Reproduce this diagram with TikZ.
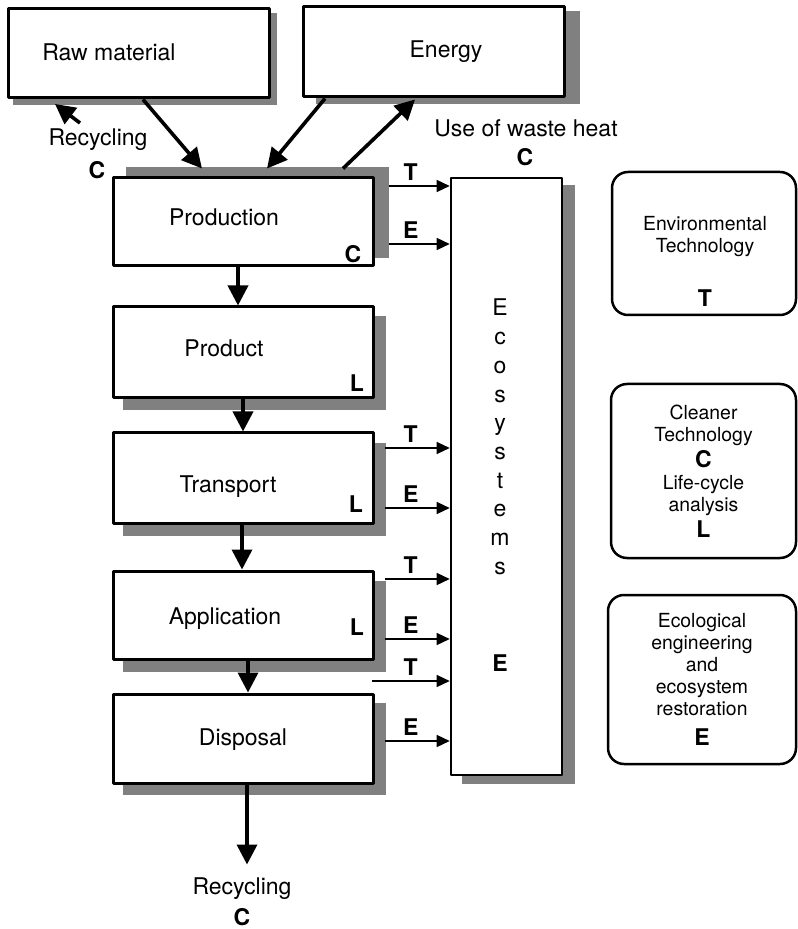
\documentclass[tikz,border=0pt]{standalone}
\usepackage{fontspec}
\setmainfont{TeX Gyre Heros}
\usetikzlibrary{arrows.meta,calc,backgrounds}
\definecolor{shadowgray}{RGB}{128,128,128}
\begin{document}
\begin{tikzpicture}[x=0.5pt, y=-0.5pt, font=\fontsize{11.5}{13.8}\selectfont, line join=round,
	box/.style={draw, line width=1.5pt, fill=white, inner sep=0pt, minimum width=130pt},
	rbox/.style={draw, line width=1.25pt, rounded corners=8pt, align=center, inner sep=0pt,
		font=\fontsize{9.7}{11}\selectfont},
	rtxt/.style={align=center, inner sep=0pt, font=\fontsize{9.7}{11}\selectfont},
	lab/.style={inner sep=1pt, font=\fontsize{11.5}{13.8}\selectfont\bfseries},
	bigarr/.style={line width=1.8pt, -{Triangle[length=10pt,width=10pt]}},
	flowarr/.style={line width=0.7pt, -{Triangle[length=6.5pt,width=6pt]}}]
	\def\bigletter#1{{\fontsize{11.5}{11}\selectfont\bfseries #1}} % bold letter in the right boxes
	\useasboundingbox (0,0) rectangle (797,929);
	% inputs
	\node[box, minimum width=130.5pt, minimum height=44.5pt] (raw) at (138.5,53.5) {};
	\node (rawtxt) at (109,52) {Raw material};
	\node[box, minimum width=130.5pt, minimum height=45pt] (energy) at (433.5,52) {};
	\node (energytxt) at (446,52) {Energy};
	% life cycle chain
	\node[box, minimum height=44pt] (prod) at (243,222) {};
	\node (prodtxt) at (224,217) {Production};
	\node[lab] (prodC) at (353,254) {C};
	\node[box, minimum height=45.5pt] (product) at (243,352.5) {};
	\node (producttxt) at (224,348) {Product};
	\node[lab] (productL) at (357,383) {L};
	\node[box, minimum height=45pt] (transport) at (243,478) {};
	\node (transporttxt) at (228,487) {Transport};
	\node[lab] (transportL) at (356,504) {L};
	\node[box, minimum height=44pt] (application) at (243,615) {};
	\node (applicationtxt) at (225,619) {Application};
	\node[lab] (applicationL) at (357,627) {L};
	\node[box, minimum height=44.5pt] (disposal) at (243,738.5) {};
	\node (disposaltxt) at (243,740) {Disposal};
	% ecosystems column
	\node[box, line width=1.3pt, minimum width=55.5pt, minimum height=298.5pt] (eco) at (506.5,476.5) {};
	\foreach \ch [count=\i from 0] in {E,c,o,s,y,s,t,e,m,s}
		\node[anchor=base, inner sep=0pt] (ecoch\i) at (500,{316+28.7*\i}) {\ch};
	\node[lab] (ecoE) at (500,663) {E};
	% shadows
	\begin{scope}[on background layer]
		\foreach \b/\dx/\dy in {raw/6/6, energy/14/6, prod/14/-9, product/11/11, transport/11/11,
			application/11/11, disposal/11/10, eco/12/8}
			\fill[shadowgray] ($(\b.north west)+(\dx,\dy)$) rectangle ($(\b.south east)+(\dx,\dy)$);
	\end{scope}
	% top arrows
	\draw[bigarr] ($(raw.south)+(4.5,0)$) -- ($(prod.north)+(-41,-8)$);
	\draw[bigarr] ($(energy.south)+(-108.5,0)$) -- ($(prod.north)+(24,-8)$);
	\draw[bigarr] ($(prod.north)+(100,-8)$) -- ($(energy.south)+(-18.5,1)$);
	\coordinate (rc) at (80,123);
	\draw[bigarr] (rc) -- ++(-25,-19);
	\node (recyc1) at (98,140) {Recycling};
	\node[lab] (recyc1C) at (97,170) {C};
	\node (waste) at (526,128) {Use of waste heat};
	\node[lab] (wasteC) at (525,157) {C};
	% down the chain
	\draw[bigarr] ($(prod.south)+(-5,0)$) -- ($(product.north)+(-5,0)$);
	\draw[bigarr] (product.south) -- (transport.north);
	\draw[bigarr] ($(transport.south)+(-1,0)$) -- ($(application.north)+(-1,0)$);
	\draw[bigarr] ($(application.south)+(5,0)$) -- ($(disposal.north)+(5,0)$);
	\draw[bigarr] ($(disposal.south)+(4,0)$) -- ($(disposal.south)+(4,80)$);
	\node (recyc2) at (242,889) {Recycling};
	\node[lab] (recyc2C) at (242,917) {C};
	% T and E flows to the ecosystems
	\foreach \src/\dx/\dy/\lab [count=\i] in {prod/14/-36/T, prod/14/22/E, transport/10/-30/T, transport/10/30/E,
		application/10/-36/T, application/10/24/E, disposal/-3/-57.5/T, disposal/10/2.5/E} {
		\coordinate (from\i) at ($(\src.east)+(\dx,\dy)$);
		\draw[flowarr] (from\i) -- (eco.west |- from\i);
		\node[lab] (flowlab\i) at ($(from\i -| eco.west)+(-39,-14)$) {\lab};
	}
	% tools
	\node[rbox, minimum width=92pt, minimum height=71.5pt] (envbox) at (704,243.5) {};
	\node[rtxt, anchor=north] (envtxt) at (705,216) {Environmental\\Technology\\[16pt]\bigletter{T}};
	\node[rbox, minimum width=92.5pt, minimum height=87pt] (cleanbox) at (703.5,471)
		{Cleaner\\Technology\\[2pt]\bigletter{C}\\Life-cycle\\analysis\\[2pt]\bigletter{L}};
	\node[rbox, minimum width=94pt, minimum height=84.5pt] (ecobox) at (702,679.5)
		{Ecological\\engineering\\and\\ecosystem\\restoration\\[4pt]\bigletter{E}};
\end{tikzpicture}
\end{document}
